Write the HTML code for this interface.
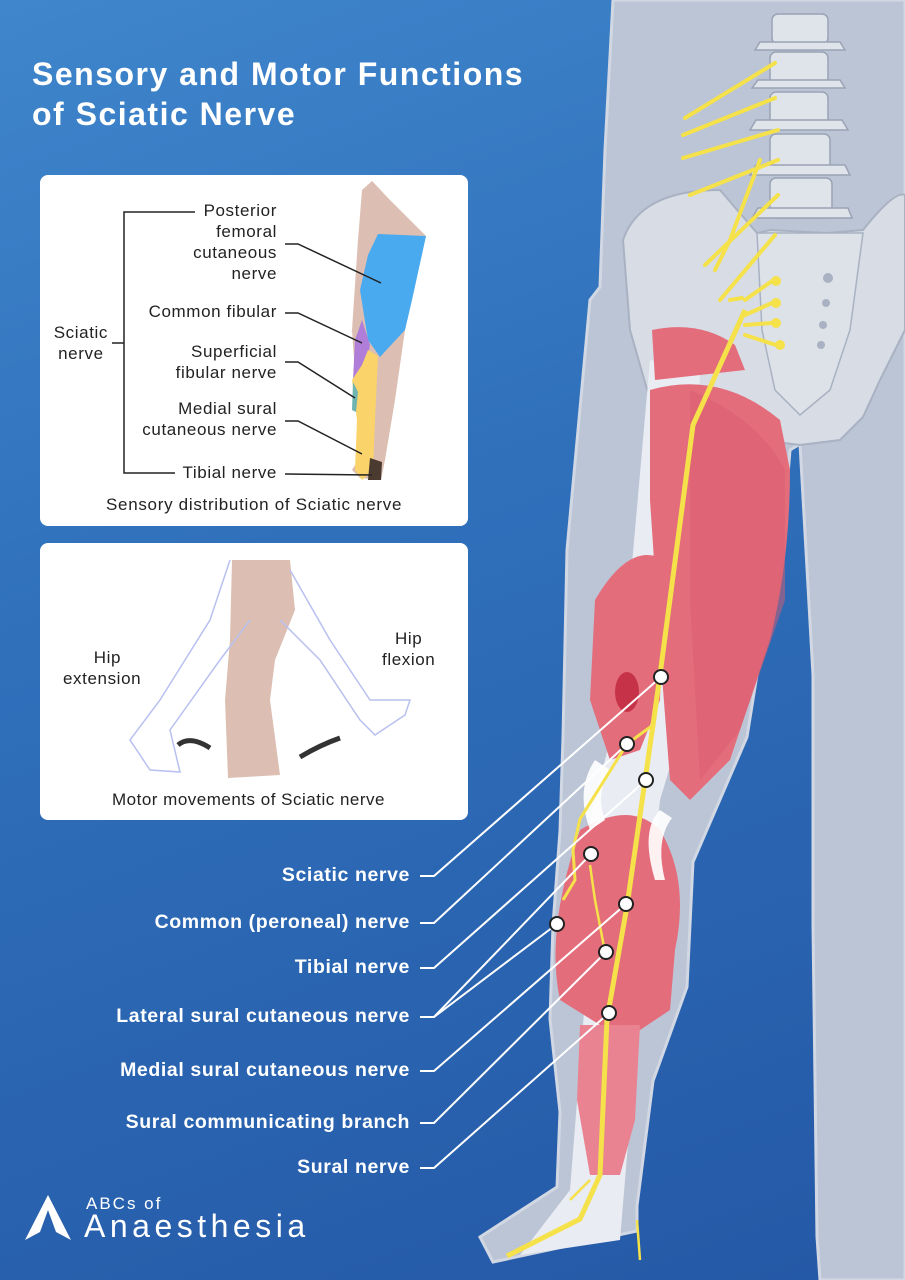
<!DOCTYPE html>
<html><head><meta charset="utf-8"><style>
html,body{margin:0;padding:0}
body{width:905px;height:1280px;overflow:hidden;position:relative;font-family:"Liberation Sans",sans-serif;
background:linear-gradient(160deg,#3f86cc 0%,#3070bb 40%,#2458a6 100%);}
.t{position:absolute;color:#fff;font-weight:bold}
.card{position:absolute;left:40px;width:428px;background:#fff;border-radius:8px}
.lbl{position:absolute;right:495px;color:#fff;font-weight:bold;font-size:19.5px;letter-spacing:0.6px;white-space:nowrap}
.s{position:absolute;font-size:17px;letter-spacing:0.6px;color:#222;text-align:right;line-height:21px}
</style></head><body>
<svg width="905" height="1280" style="position:absolute;left:0;top:0">
<path d="M613 0 L905 0 L905 1280 L820 1280 L817 1237 L813 925 L813 675 L800 444 L790 450 L787 487 L747 737 L693 862 L687 987 L653 1081 L637 1206 L637 1231 L493 1262 L480 1237 L557 1187 L560 1112 L550 1019 L553 925 L560 831 L563 737 L567 550 L590 300 L600 287 L605 150 Z" fill="#bcc5d5" stroke="#d2d8e3" stroke-width="3"/>
<path d="M623 240 Q640 190 720 190 L757 233 L770 230 L827 233 L863 230 Q895 190 905 195 L905 330 L880 380 L863 417 L840 440 L800 445 L760 440 L700 430 L650 400 L630 330 Z" fill="#d7dce5" stroke="#a9b2c2" stroke-width="2"/>
<path d="M757 233 L863 233 L850 330 L830 390 L800 415 L775 390 L762 330 Z" fill="#dde1e8" stroke="#a9b2c2" stroke-width="1.5"/>
<g fill="#dfe3ea" stroke="#9aa3b5" stroke-width="1.5">
<rect x="772" y="14" width="56" height="30" rx="6"/><rect x="770" y="52" width="58" height="32" rx="6"/>
<rect x="770" y="92" width="58" height="34" rx="6"/><rect x="770" y="134" width="60" height="36" rx="6"/>
<rect x="770" y="178" width="62" height="40" rx="6"/>
<path d="M760 42 L840 42 L845 50 L755 50 Z"/><path d="M758 80 L840 80 L845 88 L752 88 Z"/>
<path d="M756 120 L842 120 L848 130 L750 130 Z"/><path d="M756 165 L845 165 L850 175 L750 175 Z"/><path d="M758 208 L848 208 L852 218 L752 218 Z"/>
</g>
<g fill="#f5e14a"><circle cx="776" cy="281" r="5"/><circle cx="776" cy="303" r="5"/><circle cx="776" cy="323" r="5"/><circle cx="780" cy="345" r="5"/></g>
<g fill="#a9b2c2"><circle cx="828" cy="278" r="5"/><circle cx="826" cy="303" r="4"/><circle cx="823" cy="325" r="4"/><circle cx="821" cy="345" r="4"/></g>
<path d="M650 360 L700 370 L690 700 L660 800 L640 1000 L625 1180 L620 1240 L520 1255 L570 1190 L585 1000 L590 820 L620 700 Z" fill="#e9ecf2"/>
<g fill="#e46d7c">
<path d="M652 330 Q700 320 735 345 L745 370 L700 375 L655 380 Z"/>
<path d="M650 390 Q720 370 780 420 L790 470 Q790 560 770 640 L730 760 L690 800 L670 780 L660 650 L650 500 Z"/>
<path d="M595 600 Q630 540 665 560 L660 700 L640 750 L610 760 L590 700 Z"/>
<path d="M580 830 Q630 800 660 830 Q690 880 675 950 L670 1010 L640 1030 L600 1025 L560 1000 Q545 930 580 830 Z"/>
<path d="M580 1025 L640 1025 L635 1120 L620 1175 L590 1175 L577 1100 Z" fill="#e98391"/>
</g>
<path d="M690 390 Q760 420 785 470 L785 600 L740 730 L700 780 L690 600 Z" fill="#d95c6d" opacity="0.5"/>
<ellipse cx="627" cy="692" rx="12" ry="20" fill="#c63348"/>
<g fill="#fff" opacity="0.9">
<path d="M595 760 Q575 790 590 830 L605 820 Q595 795 610 770 Z"/>
<path d="M660 810 Q640 830 655 880 L665 880 Q655 840 672 818 Z"/>
</g>
<g stroke="#f5e14a" stroke-width="4" fill="none" stroke-linecap="round">
<path d="M775 63 L685 118"/><path d="M775 98 L683 135"/><path d="M778 130 L683 158"/><path d="M778 160 L690 195"/>
<path d="M778 195 L705 265"/><path d="M775 235 L720 300"/><path d="M760 160 L730 240 L715 270"/>
<path d="M742 298 L730 300"/>
<path d="M772 281 L745 300"/><path d="M772 303 L745 315"/><path d="M772 323 L745 325"/><path d="M776 345 L745 335"/>
</g>
<path d="M745 310 L693 425 L660 675 L653 725 L627 906 L607 1019 L600 1175 L580 1219 L507 1256" fill="none" stroke="#f5e14a" stroke-width="5"/>
<path d="M653 725 L627 744 L580 819 L573 850 L575 880 L563 900" fill="none" stroke="#f5e14a" stroke-width="3"/>
<path d="M590 865 L595 900 L605 952 M637 1220 L640 1260 M590 1180 L570 1200" fill="none" stroke="#f5e14a" stroke-width="2.5"/>
<g stroke="#fff" stroke-width="2" fill="none">
<path d="M420 876 L434 876 L661 677"/><path d="M420 923 L434 923 L627 744"/><path d="M420 968 L434 968 L646 780"/>
<path d="M420 1017 L434 1017 L591 854"/><path d="M434 1017 L557 924"/><path d="M420 1071 L434 1071 L626 904"/>
<path d="M420 1123 L434 1123 L606 952"/><path d="M420 1168 L434 1168 L609 1013"/>
</g>
<g fill="#fff" stroke="#222" stroke-width="2">
<circle cx="661" cy="677" r="7"/><circle cx="627" cy="744" r="7"/><circle cx="646" cy="780" r="7"/><circle cx="591" cy="854" r="7"/>
<circle cx="626" cy="904" r="7"/><circle cx="557" cy="924" r="7"/><circle cx="606" cy="952" r="7"/><circle cx="609" cy="1013" r="7"/>
</g>
</svg>
<div class="t" style="left:32px;top:54px;font-size:32px;line-height:40px;letter-spacing:1.5px">Sensory and Motor Functions<br>of Sciatic Nerve</div>

<div class="card" style="top:175px;height:351px"></div>
<div class="card" style="top:543px;height:277px"></div>
<svg width="905" height="1280" style="position:absolute;left:0;top:0">
<path d="M372 181 L390 200 L426 236 L415 280 L405 330 L395 400 L385 460 L381 480 L360 478 L352 470 L358 460 L357 400 L352 330 L358 240 L362 190 Z" fill="#dcbfb2"/>
<path d="M378 234 L426 236 L412 300 L405 330 L380 357 L368 340 L360 290 L368 255 Z" fill="#4aaaf0"/>
<path d="M362 320 L370 345 L366 370 L353 380 L355 340 Z" fill="#b07ed8"/>
<path d="M368 350 L378 356 L375 420 L373 470 L362 480 L355 470 L357 420 L352 380 L362 365 Z" fill="#fbd36b"/>
<path d="M353 382 L358 392 L356 412 L352 410 Z" fill="#6fb4b0"/>
<path d="M370 458 L382 462 L381 480 L368 480 Z" fill="#4a3a30"/>
<g stroke="#222" stroke-width="1.5" fill="none">
<path d="M195 212 L124 212 L124 473 L175 473"/><path d="M112 343 L124 343"/>
<path d="M285 244 L298 244 L381 283"/><path d="M285 313 L298 313 L362 343"/><path d="M285 362 L298 362 L355 398"/>
<path d="M285 421 L298 421 L362 454"/><path d="M285 474 L372 475"/>
</g>
<path d="M232 560 L290 560 L295 610 L275 660 L270 700 L280 775 L228 778 L225 700 L230 640 Z" fill="#dcbfb2"/>
<g fill="none" stroke="#b8c0f0" stroke-width="1.5">
<path d="M230 560 L210 620 L160 700 L130 740 L150 770 L180 772 L170 730 L220 660 L250 620"/>
<path d="M290 570 L330 640 L370 700 L410 700 L405 715 L375 735 L360 720 L320 660 L280 620"/>
</g>
<path d="M178 745 Q190 735 210 748" stroke="#333" stroke-width="5" fill="none"/>
<path d="M300 757 Q320 745 340 738" stroke="#333" stroke-width="5" fill="none"/>
</svg>
<div class="s" style="right:628px;top:200px">Posterior<br>femoral<br>cutaneous<br>nerve</div>
<div class="s" style="right:628px;top:301px">Common fibular</div>
<div class="s" style="right:628px;top:341px">Superficial<br>fibular nerve</div>
<div class="s" style="right:628px;top:398px">Medial sural<br>cutaneous nerve</div>
<div class="s" style="right:628px;top:462px">Tibial nerve</div>
<div class="s" style="right:797px;top:322px;text-align:center">Sciatic<br>nerve</div>
<div class="s" style="left:106px;top:494px;text-align:left;letter-spacing:0.7px">Sensory distribution of Sciatic nerve</div>
<div class="s" style="left:63px;top:647px;text-align:center">&nbsp;&nbsp;Hip<br>extension</div>
<div class="s" style="left:382px;top:628px;text-align:center">Hip<br>flexion</div>
<div class="s" style="left:112px;top:789px;text-align:left;letter-spacing:0.5px">Motor movements of Sciatic nerve</div>

<div class="lbl" style="top:864px">Sciatic nerve</div>
<div class="lbl" style="top:911px">Common (peroneal) nerve</div>
<div class="lbl" style="top:956px">Tibial nerve</div>
<div class="lbl" style="top:1005px">Lateral sural cutaneous nerve</div>
<div class="lbl" style="top:1059px">Medial sural cutaneous nerve</div>
<div class="lbl" style="top:1111px">Sural communicating branch</div>
<div class="lbl" style="top:1156px">Sural nerve</div>

<svg width="60" height="60" style="position:absolute;left:20px;top:1190px"><path d="M28 5 L5 50 L20 42 L28 20 L36 42 L51 50 Z" fill="#fff"/></svg>
<div style="position:absolute;left:86px;top:1194px;color:#fff;font-size:17px;letter-spacing:2px">ABCs of</div>
<div style="position:absolute;left:84px;top:1208px;color:#fff;font-size:32px;letter-spacing:4.5px">Anaesthesia</div>
</body></html>
